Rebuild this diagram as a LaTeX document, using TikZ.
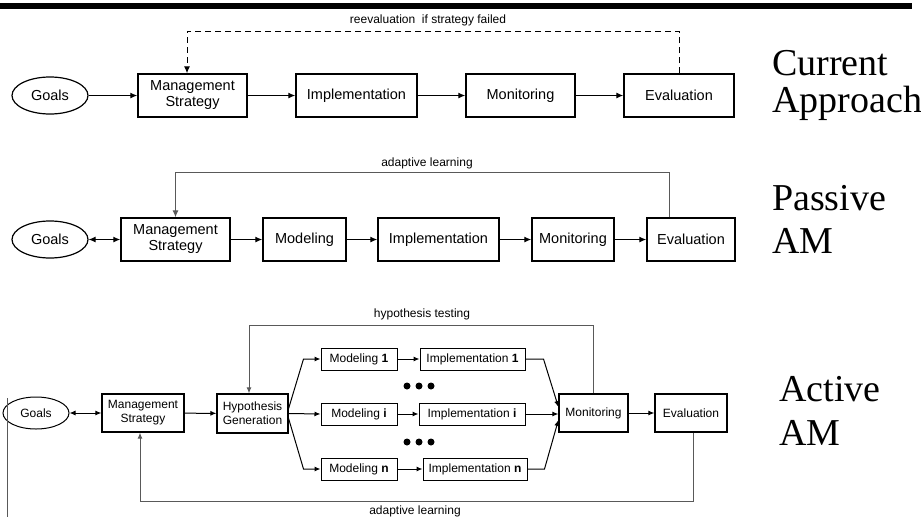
\documentclass[tikz,border=0pt]{standalone}
\usepackage{fontspec}
\setmainfont{Liberation Serif}
\setsansfont{Liberation Sans}
\usetikzlibrary{shapes.geometric}
\usetikzlibrary{arrows.meta}

\definecolor{loopgray}{gray}{0.35}

\begin{document}
\begin{tikzpicture}[x=1pt,y=-1pt,>={Latex[length=7pt,width=6pt]},
  stage box/.style={draw,line width=1.4pt,minimum height=43pt,inner sep=1pt,align=center,font=\sffamily\fontsize{14.5}{16}\selectfont},
  goal shape/.style={draw,ellipse,line width=1.2pt,inner sep=0pt,font=\sffamily\fontsize{14.5}{16}\selectfont},
  small box/.style={draw,line width=1.2pt,minimum height=38pt,inner sep=1pt,align=center,font=\sffamily\fontsize{12}{14}\selectfont},
  path box/.style={draw,line width=1pt,minimum height=22pt,inner sep=1pt,font=\sffamily\fontsize{12}{14}\selectfont},
  flow line/.style={->,line width=1.2pt},
  thin flow/.style={->,line width=1pt,>={Latex[length=6pt,width=5pt]}},
  loop line/.style={->,line width=1pt,loopgray},
  loop label/.style={font=\sffamily\fontsize{12}{14}\selectfont},
  side title/.style={anchor=base west,inner sep=0pt,align=left,font=\rmfamily\fontsize{38}{37}\selectfont}]
\useasboundingbox (0,0) rectangle (921,517);
\fill (0,3) rectangle (912,9); % rule on top

% current approach
\node[goal shape,minimum width=76pt,minimum height=37pt] (goalsA) at (50,95.5) {Goals};
\node[stage box,minimum width=109pt] (mgmtA) at (192.5,95.5) {Management\\Strategy};
\node[stage box,minimum width=121pt] (implA) at (356.5,95.5) {Implementation};
\node[stage box,minimum width=109pt] (monA) at (520.5,95.5) {Monitoring};
\node[stage box,minimum width=110pt] (evalA) at (679,95.5) {Evaluation};
\draw[flow line] (goalsA) -- (mgmtA);
\draw[flow line] (mgmtA) -- (implA);
\draw[flow line] (implA) -- (monA);
\draw[flow line] (monA) -- (evalA);
\draw[->,line width=1pt,dashed,dash pattern=on 6pt off 4pt] (evalA.north) -- ++(0,-42) -| ([xshift=-5.5pt]mgmtA.north);
\node[loop label] (reevalA) at (428,20) {reevaluation\ \ if strategy failed};
\node[side title] (titleA) at (772,112) {Current\\Approach};

% passive AM
\node[goal shape,minimum width=76pt,minimum height=37pt] (goalsB) at (50,239.5) {Goals};
\node[stage box,minimum width=109pt] (mgmtB) at (175.5,239.5) {Management\\Strategy};
\node[stage box,minimum width=83pt] (modB) at (304.5,239.5) {Modeling};
\node[stage box,minimum width=121pt] (implB) at (438.5,239.5) {Implementation};
\node[stage box,minimum width=82pt] (monB) at (573,239.5) {Monitoring};
\node[stage box,minimum width=88pt] (evalB) at (691,239.5) {Evaluation};
\draw[flow line,<->] (goalsB) -- (mgmtB);
\draw[flow line] (mgmtB) -- (modB);
\draw[flow line] (modB) -- (implB);
\draw[flow line] (implB) -- (monB);
\draw[flow line] (monB) -- (evalB);
\draw[loop line] ([xshift=-22pt]evalB.north) -- ++(0,-45) -| (mgmtB.north);
\node[loop label] (adaptB) at (427,163) {adaptive learning};
\node[side title,font=\rmfamily\fontsize{38}{43}\selectfont] (titleB) at (772,253) {Passive\\AM};

% active AM
\node[goal shape,line width=1pt,minimum width=66pt,minimum height=32pt,font=\sffamily\fontsize{12}{14}\selectfont] (goalsC) at (36,413) {Goals};
\node[small box,minimum width=82pt] (mgmtC) at (143,413) {Management\\Strategy};
\node[small box,minimum width=71pt,minimum height=39pt] (hypC) at (252.5,413.5) {Hypothesis\\Generation};
\node[path box,minimum width=76pt] (mod1) at (359,359) {Modeling \textbf{1}};
\node[path box,minimum width=105pt] (impl1) at (472.5,359) {Implementation \textbf{1}};
\node[path box,minimum width=76pt] (modi) at (359,414) {Modeling \textbf{i}};
\node[path box,minimum width=106pt] (impli) at (472,414) {Implementation \textbf{i}};
\node[path box,minimum width=76pt] (modn) at (359,469) {Modeling \textbf{n}};
\node[path box,minimum width=104pt] (impln) at (475,469) {Implementation \textbf{n}};
\node[small box,minimum width=69pt] (monC) at (593.5,413) {Monitoring};
\node[small box,minimum width=72pt] (evalC) at (691,413) {Evaluation};
\foreach \dy in {386,442}
  \foreach \dx in {407,419,431}
    \fill (\dx,\dy) circle (3.5pt);
\coordinate (edgeTop) at (7,398);
\coordinate (edgeEnd) at (7,517);
\draw[line width=1pt,loopgray] (edgeTop) -- (edgeEnd);
\draw[thin flow,<->] (goalsC) -- (mgmtC);
\draw[thin flow] (mgmtC) -- (hypC);
\draw[thin flow] ([yshift=5pt]hypC.east) -- ([xshift=-17pt]mod1.west) -- (mod1.west);
\draw[thin flow] (hypC.east) -- (modi.west);
\draw[thin flow] ([yshift=-5pt]hypC.east) -- ([xshift=-17pt]modn.west) -- (modn.west);
\draw[thin flow] (mod1) -- (impl1);
\draw[thin flow] (modi) -- (impli);
\draw[thin flow] (modn) -- (impln);
\draw[thin flow] (impl1.east) -- ([xshift=18pt]impl1.east) -- ([yshift=6pt]monC.west);
\draw[thin flow] (impli) -- (monC.west |- impli);
\draw[thin flow] (impln.east) -- ([xshift=17pt]impln.east) -- ([yshift=-7pt]monC.west);
\draw[thin flow] (monC) -- (evalC);
\draw[loop line,>={Latex[length=6pt,width=5pt]}] (monC.north) -- ++(0,-68) -| ([xshift=-3.5pt]hypC.north);
\draw[loop line,>={Latex[length=6pt,width=5pt]}] ([xshift=2pt]evalC.south) -- ++(0,69) -| ([xshift=-3pt]mgmtC.south);
\node[loop label] (testC) at (422,314) {hypothesis testing};
\node[loop label] (adaptC) at (415,511) {adaptive learning};
\node[side title,font=\rmfamily\fontsize{38}{44}\selectfont] (titleC) at (779,445) {Active\\AM};
\end{tikzpicture}
\end{document}
